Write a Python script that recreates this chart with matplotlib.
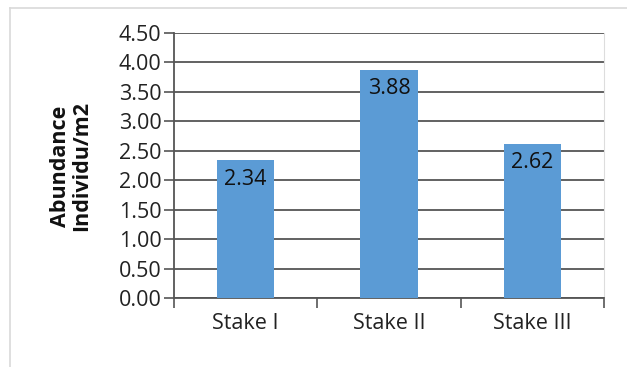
import matplotlib
matplotlib.use("Agg")
import matplotlib.pyplot as plt
from matplotlib.lines import Line2D

categories = ["Stake I", "Stake II", "Stake III"]
values = [2.34, 3.88, 2.62]
value_labels = ["2.34", "3.88", "2.62"]
yticks = [0.0, 0.5, 1.0, 1.5, 2.0, 2.5, 3.0, 3.5, 4.0, 4.5]

W, H = 627, 367
fig = plt.figure(figsize=(W / 100, H / 100), dpi=100)
plt.rcParams['font.family'] = ['Open Sans', 'DejaVu Sans']
FS = 15.5

ax = fig.add_axes([174 / W, 1 - 298 / H, (604 - 174) / W, (298 - 33) / H])
x = list(range(len(categories)))
bars = ax.bar(x, values, width=0.4, color="#5b9bd5", zorder=3)
ax.set_xlim(-0.5, 2.5)
ax.set_ylim(0, 4.5)
ax.set_yticks(yticks)
ax.set_yticklabels([f"{v:.2f}" for v in yticks], fontsize=FS, color="#222222")
ax.yaxis.grid(True, color="#555555", linewidth=1.3, zorder=0)
ax.set_axisbelow(True)

ax.set_xticks([-0.5, 0.5, 1.5, 2.5])
ax.set_xticklabels([])
ax.set_xticks(x, minor=True)
ax.set_xticklabels(categories, minor=True, fontsize=FS, color="#222222")
ax.tick_params(axis="x", which="minor", length=0, pad=11)
ax.tick_params(axis="x", which="major", length=7, width=1.2, color="#555555", direction="out")
ax.tick_params(axis="y", length=7, width=1.2, color="#555555", direction="out", pad=2)

ax.spines["top"].set_visible(False)
ax.spines["right"].set_color("#dddddd")
ax.spines["left"].set_color("#555555")
ax.spines["left"].set_linewidth(1.3)
ax.spines["bottom"].set_color("#555555")
ax.spines["bottom"].set_linewidth(1.3)

for rect, lab in zip(bars, value_labels):
    ax.annotate(lab, (rect.get_x() + rect.get_width() / 2, rect.get_height()),
                xytext=(0, -6), textcoords="offset points",
                ha="center", va="top", fontsize=FS, color="#111111", zorder=4)

fig.text(71 / W, 1 - 166 / H, "Abundance\nIndividu/m2", rotation=90,
         ha="center", va="center", fontsize=FS, fontweight="bold",
         color="#111111", linespacing=1.05)

fig.add_artist(Line2D([10 / W, 1], [1 - 8 / H, 1 - 8 / H], color="#d9d9d9", lw=1.2))
fig.add_artist(Line2D([10 / W, 10 / W], [0, 1 - 8 / H], color="#d9d9d9", lw=1.2))

fig.savefig("out.png", dpi=100)
